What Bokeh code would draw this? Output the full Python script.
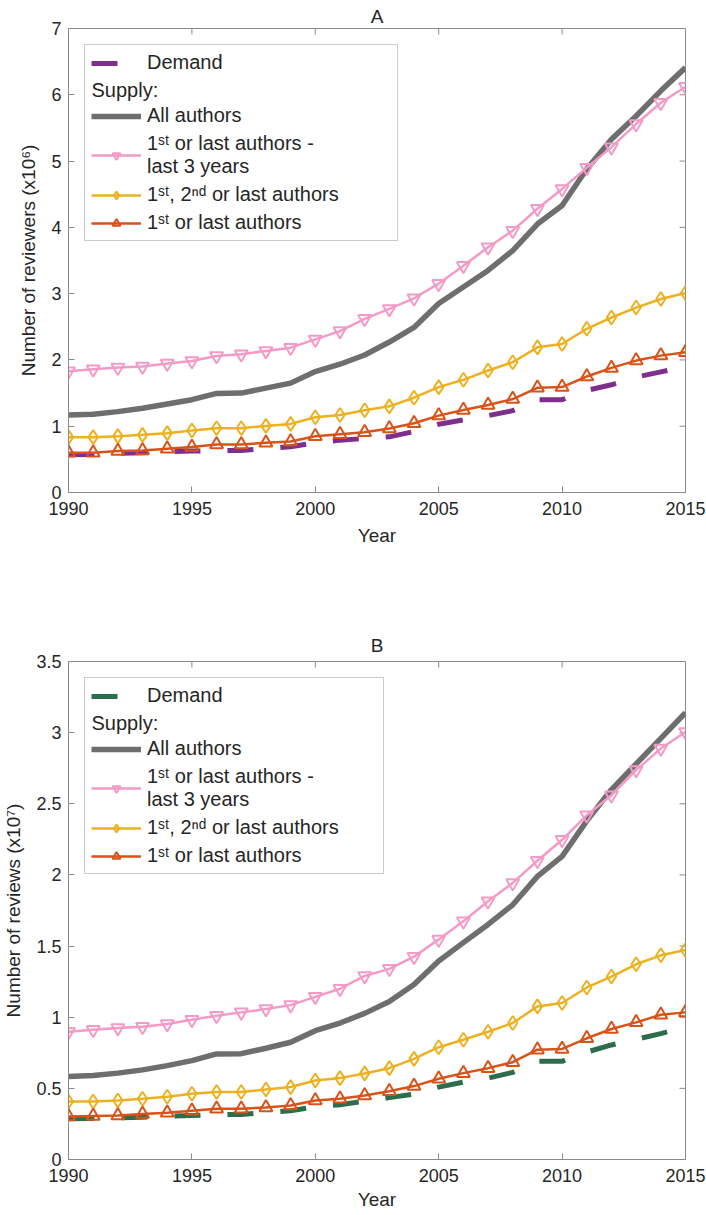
from bokeh.plotting import figure
from bokeh.models import (Legend, LegendItem, FixedTicker,
                          NumeralTickFormatter, Label, Range1d, Title)
from bokeh.layouts import column
from bokeh.embed import file_html
from bokeh.resources import INLINE

# ---------------- data ----------------
years = list(range(1990, 2016))
x_ticks = [1990, 1995, 2000, 2005, 2010, 2015]

# Panel A: number of reviewers (x10^6)
a_all = [1.17, 1.18, 1.22, 1.27, 1.335, 1.40, 1.495, 1.50, 1.575, 1.65, 1.825, 1.935, 2.075,
         2.27, 2.49, 2.85, 3.10, 3.35, 3.65, 4.05, 4.33, 4.88, 5.33, 5.68, 6.06, 6.41]
a_last3 = [1.83, 1.86, 1.885, 1.90, 1.945, 1.985, 2.06, 2.085, 2.135, 2.185, 2.31, 2.435, 2.62,
           2.77, 2.93, 3.15, 3.42, 3.70, 3.95, 4.28, 4.58, 4.90, 5.21, 5.56, 5.88, 6.12]
a_first2last = [0.835, 0.835, 0.85, 0.87, 0.895, 0.935, 0.97, 0.97, 1.005, 1.035, 1.135, 1.17, 1.24,
                1.30, 1.43, 1.59, 1.70, 1.84, 1.965, 2.19, 2.24, 2.47, 2.64, 2.79, 2.92, 3.01]
a_firstlast = [0.60, 0.60, 0.625, 0.635, 0.66, 0.685, 0.725, 0.725, 0.75, 0.77, 0.85, 0.88, 0.91,
               0.965, 1.045, 1.16, 1.245, 1.32, 1.41, 1.58, 1.59, 1.75, 1.88, 1.99, 2.065, 2.115]
a_demand = [0.57, 0.575, 0.59, 0.60, 0.615, 0.625, 0.63, 0.635, 0.66, 0.69, 0.75, 0.79, 0.815,
            0.84, 0.92, 1.03, 1.095, 1.16, 1.235, 1.40, 1.40, 1.54, 1.625, 1.74, 1.82, 1.90]
a_yticks = [0, 1, 2, 3, 4, 5, 6, 7]

# Panel B: number of reviews (x10^7)
b_all = [0.583, 0.59, 0.607, 0.63, 0.66, 0.695, 0.742, 0.744, 0.782, 0.824, 0.905, 0.959, 1.027,
         1.11, 1.23, 1.395, 1.524, 1.652, 1.79, 1.99, 2.13, 2.38, 2.60, 2.78, 2.96, 3.14]
b_last3 = [0.898, 0.912, 0.924, 0.933, 0.952, 0.982, 1.01, 1.034, 1.057, 1.085, 1.143, 1.20, 1.29,
           1.34, 1.425, 1.547, 1.675, 1.815, 1.944, 2.10, 2.247, 2.42, 2.56, 2.737, 2.888, 3.005]
b_first2last = [0.408, 0.408, 0.415, 0.427, 0.441, 0.462, 0.474, 0.474, 0.492, 0.509, 0.555, 0.572, 0.605,
                0.642, 0.707, 0.789, 0.842, 0.898, 0.959, 1.076, 1.10, 1.209, 1.286, 1.372, 1.435, 1.472]
b_firstlast = [0.303, 0.306, 0.31, 0.32, 0.329, 0.343, 0.357, 0.357, 0.366, 0.38, 0.415, 0.427, 0.45,
               0.48, 0.516, 0.567, 0.607, 0.642, 0.684, 0.772, 0.777, 0.852, 0.917, 0.964, 1.017, 1.034]
b_demand = [0.287, 0.289, 0.292, 0.297, 0.305, 0.31, 0.315, 0.317, 0.33, 0.343, 0.37, 0.385, 0.41,
            0.435, 0.46, 0.509, 0.544, 0.572, 0.612, 0.69, 0.69, 0.755, 0.805, 0.845, 0.885, 0.93]
b_yticks = [0, 0.5, 1, 1.5, 2, 2.5, 3, 3.5]

labels = ["Demand", "Supply:", "All authors",
          "1\u02e2\u1d57 or last authors -\nlast 3 years",
          "1\u02e2\u1d57, 2\u207f\u1d48 or last authors",
          "1\u02e2\u1d57 or last authors"]

# ---------------- style ----------------
FONT = "Liberation Sans"
AX = "#8a8a8a"
TXT = "#262626"
GRAY = "#6e6e6e"
PINK = "#F39AC6"
YELLOW = "#EDB120"
ORANGE = "#D95319"
W = 706
BL, BR = 65, 21
TICK = 6


def make_panel(title, ylabel, ymax, yticks, all_v, last3, f2l, fl, demand, dcolor,
               height, top, bottom, xstand, xlabstand, fmt, tstand, labw):
    p = figure(width=W, height=height, output_backend="svg", toolbar_location=None,
               x_range=Range1d(1990, 2015), y_range=Range1d(0, ymax),
               min_border_left=BL, min_border_right=BR, min_border_top=top,
               min_border_bottom=bottom)
    p.title = Title(text=title, align="center", text_font=FONT, text_font_size="19px",
                    text_font_style="normal", text_color=TXT, standoff=tstand)
    p.xgrid.visible = False
    p.ygrid.visible = False
    p.outline_line_color = AX
    p.background_fill_color = "white"
    p.border_fill_color = "white"

    for ax in (p.xaxis[0], p.yaxis[0]):
        ax.axis_line_color = AX
        ax.major_tick_line_color = AX
        ax.major_tick_in = TICK
        ax.major_tick_out = 0
        ax.minor_tick_line_color = None
        ax.major_label_text_font = FONT
        ax.major_label_text_font_size = "18px"
        ax.major_label_text_color = TXT
        ax.axis_label_text_font = FONT
        ax.axis_label_text_font_size = "19px"
        ax.axis_label_text_font_style = "normal"
        ax.axis_label_text_color = TXT
    p.xaxis.ticker = FixedTicker(ticks=x_ticks)
    p.yaxis.ticker = FixedTicker(ticks=yticks)
    p.yaxis.formatter = NumeralTickFormatter(format=fmt)
    p.xaxis.axis_label = "Year"
    p.yaxis.axis_label = ylabel
    p.xaxis.major_label_standoff = xstand
    p.xaxis.axis_label_standoff = xlabstand
    p.yaxis.major_label_standoff = 7
    p.yaxis.axis_label_standoff = 9

    # inward ticks on the top and right edges of the box
    frame_w = W - BL - BR
    frame_h = height - top - bottom
    dy = TICK * ymax / frame_h
    dx = TICK * 25.0 / frame_w
    inner_x = x_ticks[1:-1]
    p.segment(x0=inner_x, y0=[ymax] * len(inner_x), x1=inner_x, y1=[ymax - dy] * len(inner_x),
              line_color=AX, line_width=1)
    inner_y = yticks[1:-1]
    p.segment(x0=[2015] * len(inner_y), y0=inner_y, x1=[2015 - dx] * len(inner_y), y1=inner_y,
              line_color=AX, line_width=1)

    r_dem = p.line(years, demand, line_color=dcolor, line_width=5, line_dash="26 27")
    r_sup = p.line([], [], line_alpha=0)
    r_all = p.line(years, all_v, line_color=GRAY, line_width=5.5)
    r_l3 = p.line(years, last3, line_color=PINK, line_width=2.5)
    s_l3 = p.scatter(years, last3, marker="inverted_triangle", size=13, fill_color=None,
                     line_color=PINK, line_width=2)
    r_f2 = p.line(years, f2l, line_color=YELLOW, line_width=2.5)
    s_f2 = p.scatter(years, f2l, marker="diamond", size=14, fill_color=None,
                     line_color=YELLOW, line_width=2)
    r_fl = p.line(years, fl, line_color=ORANGE, line_width=2.5)
    s_fl = p.scatter(years, fl, marker="triangle", size=13, fill_color=None,
                     line_color=ORANGE, line_width=2)

    items = [LegendItem(label=labels[0], renderers=[r_dem]),
             LegendItem(label=" ", renderers=[r_sup]),
             LegendItem(label=labels[2], renderers=[r_all]),
             LegendItem(label=labels[3], renderers=[r_l3, s_l3]),
             LegendItem(label=labels[4], renderers=[r_f2, s_f2]),
             LegendItem(label=labels[5], renderers=[r_fl, s_fl])]
    leg = Legend(items=items, location="top_left", margin=16, padding=6, spacing=5,
                 glyph_width=50, glyph_height=20, label_height=20, label_standoff=6,
                 label_width=labw,
                 label_text_font=FONT, label_text_font_size="20px", label_text_color=TXT,
                 label_text_line_height=1.2,
                 border_line_color="#9a9a9a", border_line_width=1,
                 background_fill_color="white", background_fill_alpha=0.0)
    p.add_layout(leg)
    p.add_layout(Label(x=23, y=frame_h - 61, x_units="screen", y_units="screen",
                       text=labels[1], text_font=FONT, text_font_size="20px",
                       text_color=TXT, text_baseline="middle", text_align="left",
                       level="overlay"))
    return p


pa = make_panel("A", "Number of reviewers (x10\u2076)", 7, a_yticks, a_all, a_last3,
                a_first2last, a_firstlast, a_demand, "#7E2F8E",
                height=600, top=28, bottom=108, xstand=9, xlabstand=7, fmt="0",
                tstand=4, labw=244)
pb = make_panel("B", "Number of reviews (x10\u2077)", 3.5, b_yticks, b_all, b_last3,
                b_first2last, b_firstlast, b_demand, "#2C6E4C",
                height=615, top=61, bottom=56, xstand=9, xlabstand=4, fmt="0.[0]",
                tstand=11, labw=230)

layout = column(pa, pb, spacing=0)
open("out.html", "w").write(file_html(layout, INLINE))
